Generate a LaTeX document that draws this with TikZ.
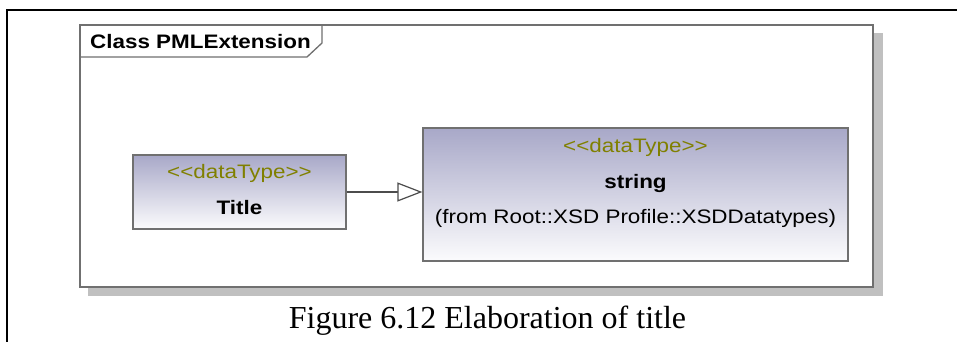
\documentclass[tikz,border=0pt]{standalone}
\usepackage{fontspec}
\setmainfont{Liberation Sans}
\newfontfamily\uifont[FakeStretch=1.15]{Liberation Sans}
\newfontfamily\capfont{Liberation Serif}
\usetikzlibrary{arrows.meta}
\definecolor{boxtop}{HTML}{A8A8C8}
\definecolor{stereo}{HTML}{808000}
\definecolor{edgegray}{HTML}{707070}
\definecolor{shadowgray}{HTML}{C0C0C0}
\begin{document}
\begin{tikzpicture}[x=1pt,y=-1pt,
  classbox/.style={draw=edgegray, line width=1.3pt, top color=boxtop, bottom color=white!96!boxtop, inner sep=0pt},
  uitext/.style={font=\uifont\fontsize{19.5}{22}\selectfont, inner sep=0pt},
  stereotxt/.style={uitext, text=stereo},
  nametxt/.style={uitext, font=\uifont\bfseries\fontsize{19.5}{22}\selectfont},
  genarrow/.style={draw=black!70, line width=1.2pt, -{Triangle[open, length=25pt, width=19pt, fill=white]}}
]
\useasboundingbox (0,0) rectangle (957,342);
\fill[white] (0,0) rectangle (957,342);
% page frame
\draw[line width=2pt] (7,342) -- (7,10) -- (957,10);
% package frame with shadow
\fill[shadowgray] (88,33) rectangle (883,296);
\draw[draw=edgegray, fill=white, line width=1.3pt] (80,25) rectangle (873,287);
\draw[draw=edgegray, line width=1.3pt] (80,57) -- (307,57) -- (322,43) -- (322,25);
\node[nametxt, anchor=west] (pkg) at (90,42) {Class PMLExtension};
% classes
\node[classbox, minimum width=213pt, minimum height=74pt] (title) at (239.5,192) {};
\node[stereotxt] (titlest) at (239.5,173) {<<dataType>>};
\node[nametxt] (titlename) at (239.5,208) {Title};
\node[classbox, minimum width=425pt, minimum height=133pt] (string) at (635.5,194.5) {};
\node[stereotxt] (stringst) at (635.5,147) {<<dataType>>};
\node[nametxt] (stringname) at (635.5,183) {string};
\node[uitext] (stringfrom) at (635.5,218) {(from Root::XSD Profile::XSDDatatypes)};
% generalization
\draw[genarrow] (title.east |- 0,192) -- (string.west |- 0,192);
% caption
\node[font=\capfont\fontsize{32}{36}\selectfont, inner sep=0pt, anchor=base] (caption) at (487.5,328) {Figure 6.12 Elaboration of title};
\end{tikzpicture}
\end{document}
